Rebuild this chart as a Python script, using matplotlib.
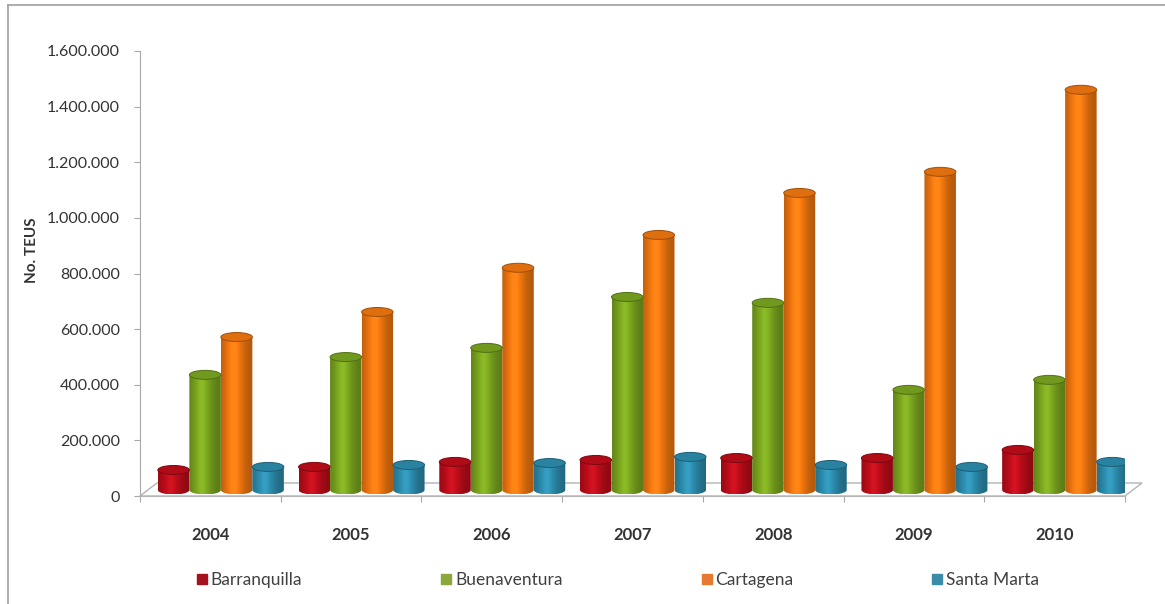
import numpy as np
import matplotlib
matplotlib.use('Agg')
import matplotlib.pyplot as plt
from matplotlib.patches import Ellipse, Polygon, PathPatch
from matplotlib.path import Path
from matplotlib.lines import Line2D
from matplotlib.colors import to_rgb
from matplotlib.ticker import FuncFormatter

plt.rcParams['font.family'] = ['Lato', 'DejaVu Sans']

years = ['2004', '2005', '2006', '2007', '2008', '2009', '2010']
barranquilla = [72000, 83000, 101000, 108000, 115000, 115000, 144000]
buenaventura = [414000, 478000, 511000, 694000, 673000, 360000, 396000]
cartagena = [550000, 640000, 799000, 917000, 1068000, 1144000, 1439000]
santa_marta = [83000, 90000, 97000, 119000, 90000, 83000, 101000]

series = [('Barranquilla', barranquilla, '#c20d1a', '#a4121f'),
          ('Buenaventura', buenaventura, '#7eaa20', '#8aa83c'),
          ('Cartagena', cartagena, '#f77a10', '#e57a30'),
          ('Santa Marta', santa_marta, '#2e90b2', '#3a8ca8')]

W, H = 1165, 604
fig = plt.figure(figsize=(W / 100, H / 100), dpi=100)
ax = fig.add_axes([140 / W, (H - 496) / H, 985 / W, 445 / H])

YMAX = 1600000
xpx = 7 / 985.0        # category units per pixel
ypx = YMAX / 445.0     # value units per pixel

bar_w = 31.5 * xpx
ell_h = 9 * ypx
base = 6 * ypx
shift = 10.5 * xpx

# floor of the 3d box
fdx, fdy = 17 * xpx, 13 * ypx
floor = Polygon([(-0.5, 0), (6.5, 0), (6.5 + fdx, fdy), (-0.5 + fdx, fdy)],
                closed=True, facecolor='white', edgecolor='#b4b4b4', lw=1.0,
                zorder=1, clip_on=False)
ax.add_patch(floor)

# horizontal shading profile of a cylinder
s = np.linspace(0, 1, 64)
light = 0.72 + 0.34 * np.exp(-((s - 0.4) / 0.32) ** 2)


def cylinder(xc, h, color):
    rgb = np.array(to_rgb(color))
    x0, x1 = xc - bar_w / 2, xc + bar_w / 2
    top = base + h
    t = np.linspace(np.pi, 2 * np.pi, 40)
    pts = [(x0, top), (x0, base)]
    pts += list(zip(xc + bar_w / 2 * np.cos(t), base + ell_h / 2 * np.sin(t)))
    pts += [(x1, top), (x0, top)]
    clip = PathPatch(Path(pts), facecolor='none', edgecolor='none',
                     transform=ax.transData)
    ax.add_patch(clip)
    f = light[None, :, None]
    img = np.clip(rgb[None, None, :] * f + np.maximum(f - 1, 0) * 0.4, 0, 1)
    im = ax.imshow(img, extent=[x0, x1, base - ell_h / 2, top], aspect='auto',
                   interpolation='bilinear', zorder=3)
    im.set_clip_path(clip)
    ax.add_patch(Ellipse((xc, top), bar_w, ell_h, facecolor=rgb * 0.9,
                         edgecolor=rgb * 0.65, lw=0.7, zorder=4))


x = np.arange(len(years))
for k, (name, vals, col, lcol) in enumerate(series):
    for i, v in enumerate(vals):
        cylinder(x[i] + shift + (k - 1.5) * bar_w, v, col)

ax.set_xlim(-0.5, 6.5)
ax.set_ylim(0, YMAX)

for side in ['top', 'right']:
    ax.spines[side].set_visible(False)
ax.spines['left'].set_color('#a8a8a8')
ax.spines['bottom'].set_color('#b4b4b4')
ax.spines['left'].set_bounds(0, YMAX)

ax.set_yticks(np.arange(0, YMAX + 1, 200000))
ax.yaxis.set_major_formatter(FuncFormatter(lambda v, p: f'{int(v):,}'.replace(',', '.')))
ax.tick_params(axis='y', length=4.5, color='#a8a8a8', labelsize=11.5,
               labelcolor='#333333', pad=10)

ax.set_xticks(np.arange(-0.5, 7, 1))
ax.set_xticklabels([])
ax.set_xticks(x, minor=True)
ax.set_xticklabels(years, minor=True, fontweight='bold', fontsize=12,
                   color='#333333')
ax.tick_params(axis='x', which='major', length=4, color='#a8a8a8')
ax.tick_params(axis='x', which='minor', length=0, pad=22)

fig.text(32 / W, 1 - 250 / H, 'No. TEUS', rotation=90, ha='center',
         va='center', fontweight='bold', fontsize=11, color='#333333')

handles = [Line2D([], [], marker='s', ls='', markersize=7, color=lc)
           for _, _, _, lc in series]
fig.legend(handles, [n for n, _, _, _ in series], loc='center',
           bbox_to_anchor=(618 / W, 1 - 580 / H), ncol=4, frameon=False,
           fontsize=12.5, handlelength=0.6, handletextpad=0.2,
           columnspacing=8.0, labelcolor='#404040')

# chart frame (left and top edges visible)
fig.add_artist(Line2D([8 / W, 8 / W], [0, 1 - 5 / H], color='#a0a0a0', lw=1.2))
fig.add_artist(Line2D([8 / W, 1], [1 - 5 / H, 1 - 5 / H], color='#a0a0a0', lw=1.2))

fig.savefig('out.png', dpi=100, facecolor='white')
